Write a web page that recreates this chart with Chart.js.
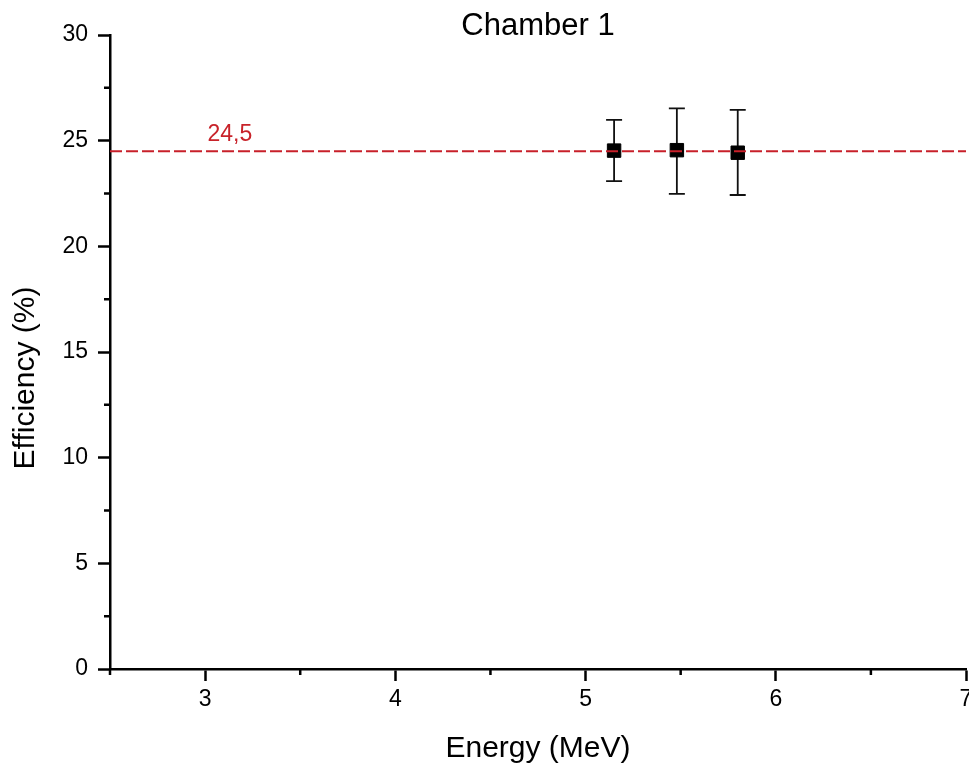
<!DOCTYPE html>
<html><head><meta charset="utf-8">
<script src="https://cdn.jsdelivr.net/npm/chart.js@4/dist/chart.umd.min.js"></script>
<style>
html,body{margin:0;padding:0;overflow:hidden;background:#fff}
#wrap{width:980px;height:767px;position:relative}
</style>
</head><body><div id="wrap"><canvas id="c" width="980" height="767"></canvas></div>
<script>
// ---- data ----
const energies = [5.15, 5.48, 5.80];
const efficiency = [24.53, 24.55, 24.43];
const errLow = [23.09, 22.48, 22.43];
const errHigh = [25.98, 26.53, 26.46];
const meanLevel = 24.5;
const meanLabel = '24,5';
const xRange = [2.5, 7];
const yRange = [0, 30];
const xMajorTicks = [3, 4, 5, 6, 7];
const xMinorTicks = [2.5, 3.5, 4.5, 5.5, 6.5];
const yMajorTicks = [0, 5, 10, 15, 20, 25, 30];
const yMinorTicks = [2.5, 7.5, 12.5, 17.5, 22.5, 27.5];
const titleText = 'Chamber 1';
const xTitle = 'Energy (MeV)';
const yTitle = 'Efficiency (%)';

const FONT = "'Liberation Sans', Arial, Helvetica, sans-serif";
Chart.defaults.font.family = FONT;
Chart.defaults.color = '#000';

const extras = {
  id: 'extras',
  beforeDatasetsDraw(chart) {
    const ctx = chart.ctx, xs = chart.scales.x, ys = chart.scales.y;
    ctx.save();
    ctx.strokeStyle = '#111';
    ctx.lineWidth = 1.8;
    energies.forEach((e, i) => {
      const px = xs.getPixelForValue(e);
      const t = ys.getPixelForValue(errHigh[i]);
      const b = ys.getPixelForValue(errLow[i]);
      ctx.beginPath();
      ctx.moveTo(px, t); ctx.lineTo(px, b);
      ctx.moveTo(px - 8, t); ctx.lineTo(px + 8, t);
      ctx.moveTo(px - 8, b); ctx.lineTo(px + 8, b);
      ctx.stroke();
    });
    ctx.restore();
  },
  afterDraw(chart) {
    const ctx = chart.ctx, xs = chart.scales.x, ys = chart.scales.y, ca = chart.chartArea;
    ctx.save();
    ctx.strokeStyle = '#000';
    ctx.lineWidth = 2.5;
    ctx.beginPath();
    xMinorTicks.forEach(v => {
      const px = xs.getPixelForValue(v);
      ctx.moveTo(px, ca.bottom); ctx.lineTo(px, ca.bottom + 6);
    });
    yMinorTicks.forEach(v => {
      const py = ys.getPixelForValue(v);
      ctx.moveTo(ca.left, py); ctx.lineTo(ca.left - 6, py);
    });
    ctx.stroke();
    // mean label
    ctx.fillStyle = '#c8232a';
    ctx.font = '23px ' + FONT;
    ctx.textAlign = 'center';
    ctx.textBaseline = 'alphabetic';
    ctx.fillText(meanLabel, xs.getPixelForValue(3.13), ys.getPixelForValue(meanLevel) - 10);
    // y title
    ctx.fillStyle = '#000';
    ctx.font = '30px ' + FONT;
    ctx.textBaseline = 'middle';
    ctx.translate(26, (ca.top + ca.bottom) / 2 + 26);
    ctx.rotate(-Math.PI / 2);
    ctx.fillText(yTitle, 0, 0);
    ctx.restore();
  }
};

new Chart(document.getElementById('c'), {
  type: 'scatter',
  data: {
    datasets: [
      {
        type: 'line',
        data: [{x: xRange[0], y: meanLevel}, {x: xRange[1], y: meanLevel}],
        borderColor: '#c8202a',
        borderWidth: 2,
        borderDash: [12, 4],
        pointRadius: 0,
        fill: false,
        order: 0
      },
      {
        data: energies.map((x, i) => ({x: x, y: efficiency[i]})),
        pointStyle: 'rect',
        pointRadius: 9.5,
        backgroundColor: '#000',
        borderColor: '#000',
        borderWidth: 1,
        showLine: false,
        order: 1
      }
    ]
  },
  options: {
    responsive: false,
    animation: false,
    devicePixelRatio: 1,
    layout: {padding: {left: 0, right: 14, top: 0, bottom: 0}},
    plugins: {
      legend: {display: false},
      tooltip: {enabled: false},
      title: {
        display: true,
        fullSize: false,
        text: titleText,
        color: '#000',
        font: {size: 31, weight: 'normal', family: FONT},
        padding: {top: 7.5, bottom: -9.7}
      }
    },
    scales: {
      x: {
        type: 'linear',
        min: xRange[0], max: xRange[1],
        afterBuildTicks: s => { s.ticks = xMajorTicks.map(v => ({value: v})); },
        afterFit: s => { s.height = 98; },
        grid: {display: true, drawOnChartArea: false, drawTicks: true, tickLength: 12, tickWidth: 2.5, tickColor: '#000'},
        border: {display: true, color: '#000', width: 2.5},
        ticks: {font: {size: 23}, color: '#000', padding: 5, maxRotation: 0, autoSkip: false},
        title: {display: true, text: xTitle, font: {size: 30}, color: '#000', padding: {top: 0, bottom: 0}}
      },
      y: {
        type: 'linear',
        min: yRange[0], max: yRange[1],
        afterBuildTicks: s => { s.ticks = yMajorTicks.map(v => ({value: v})); },
        afterFit: s => { s.width = 110; },
        grid: {display: true, drawOnChartArea: false, drawTicks: true, tickLength: 12, tickWidth: 2.5, tickColor: '#000'},
        border: {display: true, color: '#000', width: 2.5},
        ticks: {font: {size: 23}, color: '#000', padding: 10, autoSkip: false}
      }
    }
  },
  plugins: [extras]
});
</script>
</body></html>
